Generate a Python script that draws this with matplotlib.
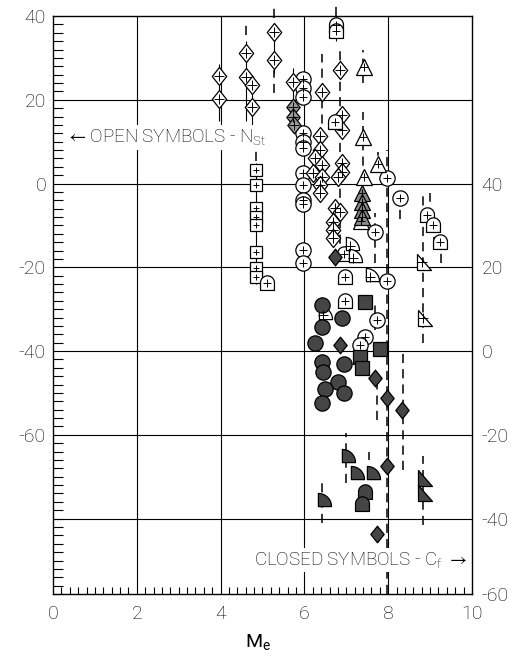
"""Heat transfer / skin friction scatter vs M_e, recreated from a scanned figure."""
import numpy as np
import matplotlib
matplotlib.use("Agg")
import matplotlib.pyplot as plt
from matplotlib.path import Path
from matplotlib.ticker import MultipleLocator, FixedLocator

plt.rcParams['font.family'] = ['Roboto', 'DejaVu Sans']
plt.rcParams['font.weight'] = 'light'
plt.rcParams['mathtext.default'] = 'regular'

# ---- open symbols (N_St, left scale) ----
o_circle_x = [5.97] * 12 + [7.97, 8.28, 7.68, 7.97, 7.73, 7.45, 7.33]
o_circle_y = [25, 22.7, 20.6, 12, 10, 8.5, 2.5, -0.4, -3.9, -5, -15.9, -18.9,
              1.3, -3.5, -11.5, -23.3, -32.6, -36.6, -38.5]

o_diamond_x = [3.96, 3.96, 4.6, 4.6, 4.75, 4.75, 5.27, 5.27, 5.73,
               6.42, 6.37, 6.37, 6.25, 6.42, 6.2, 6.42, 6.37, 6.37,
               6.85, 6.9, 6.9, 6.9, 6.9, 6.8, 6.73, 6.85, 6.68, 6.68, 6.68]
o_diamond_y = [25.7, 20.2, 31.1, 25.4, 23.5, 18.2, 36.2, 29.5, 24.2,
               21.8, 11.3, 8, 6, 4.4, 2.5, 1.5, -0.4, -2.3,
               27, 16.3, 12.7, 4.9, 2.7, 1.5, -5.8, -6.8, -9.2, -11, -13]

g_diamond_x = [5.73, 5.73, 5.76]
g_diamond_y = [18.2, 15.9, 14]

o_triangle_x = [7.42, 7.4, 7.76, 7.42, 7.35]
o_triangle_y = [27.8, 11.1, 4.6, 1.5, -8.9]

g_triangle_x = [7.38, 7.38, 7.38, 7.38]
g_triangle_y = [-2.3, -4.3, -6.3, -8.1]

o_square_x = [4.85] * 8
o_square_y = [3.2, -0.4, -5.8, -8, -9.9, -16.3, -20.2, -22.3]

o_house_x = [6.75, 6.75, 6.73, 5.1, 8.93, 9.07, 9.24, 6.97, 6.97, 6.95]
o_house_y = [37.8, 36.4, 14.7, -23.7, -7.5, -9.9, -14, -22.3, -28, -16.8]

o_quarter_x = [7.1, 7.57, 6.44, 7.15]
o_quarter_y = [-15, -22.3, -31.4, -17.8]

o_rtri_x = [8.8, 8.83]
o_rtri_y = [-18.7, -32]

# ---- closed symbols (C_f, right scale = left + 40) ----
f_circle_x = [6.42, 6.42, 6.9, 6.25, 6.42, 6.45, 6.95, 6.8, 6.5, 6.95, 6.42]
f_circle_y = [-29, -34.2, -32.1, -38, -42.6, -45, -43, -47.4, -49, -50, -52.5]

f_square_x = [7.45, 7.33, 7.38, 7.8]
f_square_y = [-28.3, -41.5, -44, -39.5]

f_diamond_x = [6.73, 6.85, 7.68, 7.97, 8.33, 7.97, 7.73]
f_diamond_y = [-17.5, -38.5, -46.4, -51.2, -54, -67.4, -83.6]

f_quarter_x = [7.0, 7.2, 7.6, 6.42]
f_quarter_y = [-65.5, -69.6, -69.6, -76]

f_house_x = [7.45, 7.38]
f_house_y = [-73.6, -76.5]

f_rtri_x = [8.83, 8.83]
f_rtri_y = [-70.3, -73.8]

# vertical scatter bars: x, top, bottom
solid_x = [3.96, 4.6, 4.75, 5.27, 5.73, 4.85, 6.75]
solid_top = [28.5, 34, 22, 38, 27.5, 5, 40]
solid_bot = [15, 15, 14, 26.5, 12.5, -24, 34]

dash_x = [4.6, 5.27, 5.27, 4.85, 6.42, 6.85, 6.75, 7.4, 7.4, 7.76, 7.68, 7.68,
          7.97, 8.28, 8.35, 8.83, 8.83, 9.0, 9.1, 9.27, 6.42, 7.0, 7.55, 7.73]
dash_top = [38, 42.5, 27, 8, 31, 32.5, 42.5, 32, 17, 7.5, -7, -28,
            8, -4.5, -39.5, -2, -65, -2.3, -12, -16.5, -71, -59.5, -64, -47.5]
dash_bot = [35.5, 39.5, 21.5, 5.5, -4, -18, 40, 24, 0.5, 3, -19, -35,
            -98, -8.5, -68.5, -38, -81.5, -8, -15, -19, -81, -71.5, -66, -56.5]

left_ticks = [40, 20, 0, -20, -40, -60]
right_pos = [0, -20, -40, -60, -80, -98]
right_labels = ['40', '20', '0', '-20', '-40', '-60']
x_ticks = [0, 2, 4, 6, 8, 10]


def arc(cx, cy, r, a0, a1, n=20):
    t = np.linspace(a0, a1, n)
    return list(zip(cx + r * np.cos(t), cy + r * np.sin(t)))


diamond = Path([(0, 1), (0.8, 0), (0, -1), (-0.8, 0), (0, 1)], closed=True)
house_v = [(-1, -1), (1, -1)] + arc(0, 0.1, 1, 0, np.pi) + [(-1, -1)]
house = Path(house_v, closed=True)
quarter_v = [(-0.5, -0.5), (1.1, -0.5)] + arc(-0.5, -0.5, 1.6, 0, np.pi / 2) + [(-0.5, -0.5)]
quarter = Path(quarter_v, closed=True)
rtri = Path([(-0.5, 0.8), (-0.5, -0.8), (0.9, -0.8), (-0.5, 0.8)], closed=True)

FILL = '#454545'

fig = plt.figure(figsize=(5.23, 6.56), dpi=100)
ax = fig.add_axes([0.1013, 0.0945, 0.8012, 0.8811])
ax.set_xlim(0, 10)
ax.set_ylim(-98, 40)

# grid
for gx in [2, 4, 6, 8]:
    ax.axvline(gx, color='black', lw=0.8, zorder=1)
for gy in [20, 0, -20, -40, -60, -80]:
    ax.axhline(gy, color='black', lw=0.8, zorder=1)

ax.vlines(solid_x, solid_bot, solid_top, color='black', lw=0.8, zorder=2)
ax.vlines(dash_x, dash_bot, dash_top, color='black', lw=1.1,
          linestyles=(0, (6, 4)), zorder=2, clip_on=False)


def sym(x, y, m, ms, fc='white', cross=True):
    ax.plot(x, y, ls='none', marker=m, ms=ms, mfc=fc, mec='black', mew=0.9, zorder=3)
    if cross:
        ax.plot(x, y, ls='none', marker='+', ms=ms * 0.55, mec='black', mew=0.7, zorder=4)


sym(o_circle_x, o_circle_y, 'o', 11)
sym(o_diamond_x, o_diamond_y, diamond, 13)
sym(g_diamond_x, g_diamond_y, diamond, 12, fc='#9a9a9a')
sym(o_triangle_x, o_triangle_y, '^', 11)
sym(g_triangle_x, g_triangle_y, '^', 11, fc='#8a8a8a')
sym(o_square_x, o_square_y, 's', 8.5)
sym(o_house_x, o_house_y, house, 11)
sym(o_quarter_x, o_quarter_y, quarter, 13)
sym(o_rtri_x, o_rtri_y, rtri, 13)

sym(f_circle_x, f_circle_y, 'o', 11, fc=FILL, cross=False)
sym(f_square_x, f_square_y, 's', 9.5, fc=FILL, cross=False)
sym(f_diamond_x, f_diamond_y, diamond, 12, fc=FILL, cross=False)
sym(f_quarter_x, f_quarter_y, quarter, 13, fc=FILL, cross=False)
sym(f_house_x, f_house_y, house, 11, fc=FILL, cross=False)
sym(f_rtri_x, f_rtri_y, rtri, 13, fc=FILL, cross=False)

# axes and ticks
ax.xaxis.set_major_locator(FixedLocator(x_ticks))
ax.xaxis.set_minor_locator(MultipleLocator(0.2))
ax.yaxis.set_major_locator(FixedLocator(left_ticks))
ax.yaxis.set_minor_locator(MultipleLocator(2))
ax.tick_params(axis='both', which='both', direction='in', right=False, top=False)
ax.tick_params(axis='x', which='minor', length=5, width=0.8)
ax.tick_params(axis='y', which='minor', length=7, width=0.8)
ax.tick_params(axis='x', which='major', length=0, pad=8, labelsize=14)
ax.tick_params(axis='y', which='major', length=0, pad=5, labelsize=14)
ax.set_xticklabels([str(t) for t in x_ticks])
ax.set_yticklabels([str(t) for t in left_ticks])
for s in ax.spines.values():
    s.set_linewidth(1.0)

ax2 = ax.twinx()
ax2.set_ylim(ax.get_ylim())
ax2.set_yticks(right_pos)
ax2.set_yticklabels(right_labels)
ax2.tick_params(axis='y', length=0, pad=7, labelsize=14)
for s in ax2.spines.values():
    s.set_visible(False)

ax.set_xlabel('M$_e$', fontsize=14, labelpad=3)
ax.xaxis.set_label_coords(0.49, -0.065)

box = dict(facecolor='white', edgecolor='none', pad=1.5)
ax.text(0.28, 11, r'$\leftarrow$OPEN SYMBOLS - N$_{St}$', fontsize=13.5, va='center',
        ha='left', bbox=box, zorder=5)
ax.text(9.9, -89.8, r'CLOSED SYMBOLS - C$_f$ $\rightarrow$', fontsize=13.5, va='center',
        ha='right', bbox=box, zorder=5)

fig.savefig('out.png', dpi=100)
